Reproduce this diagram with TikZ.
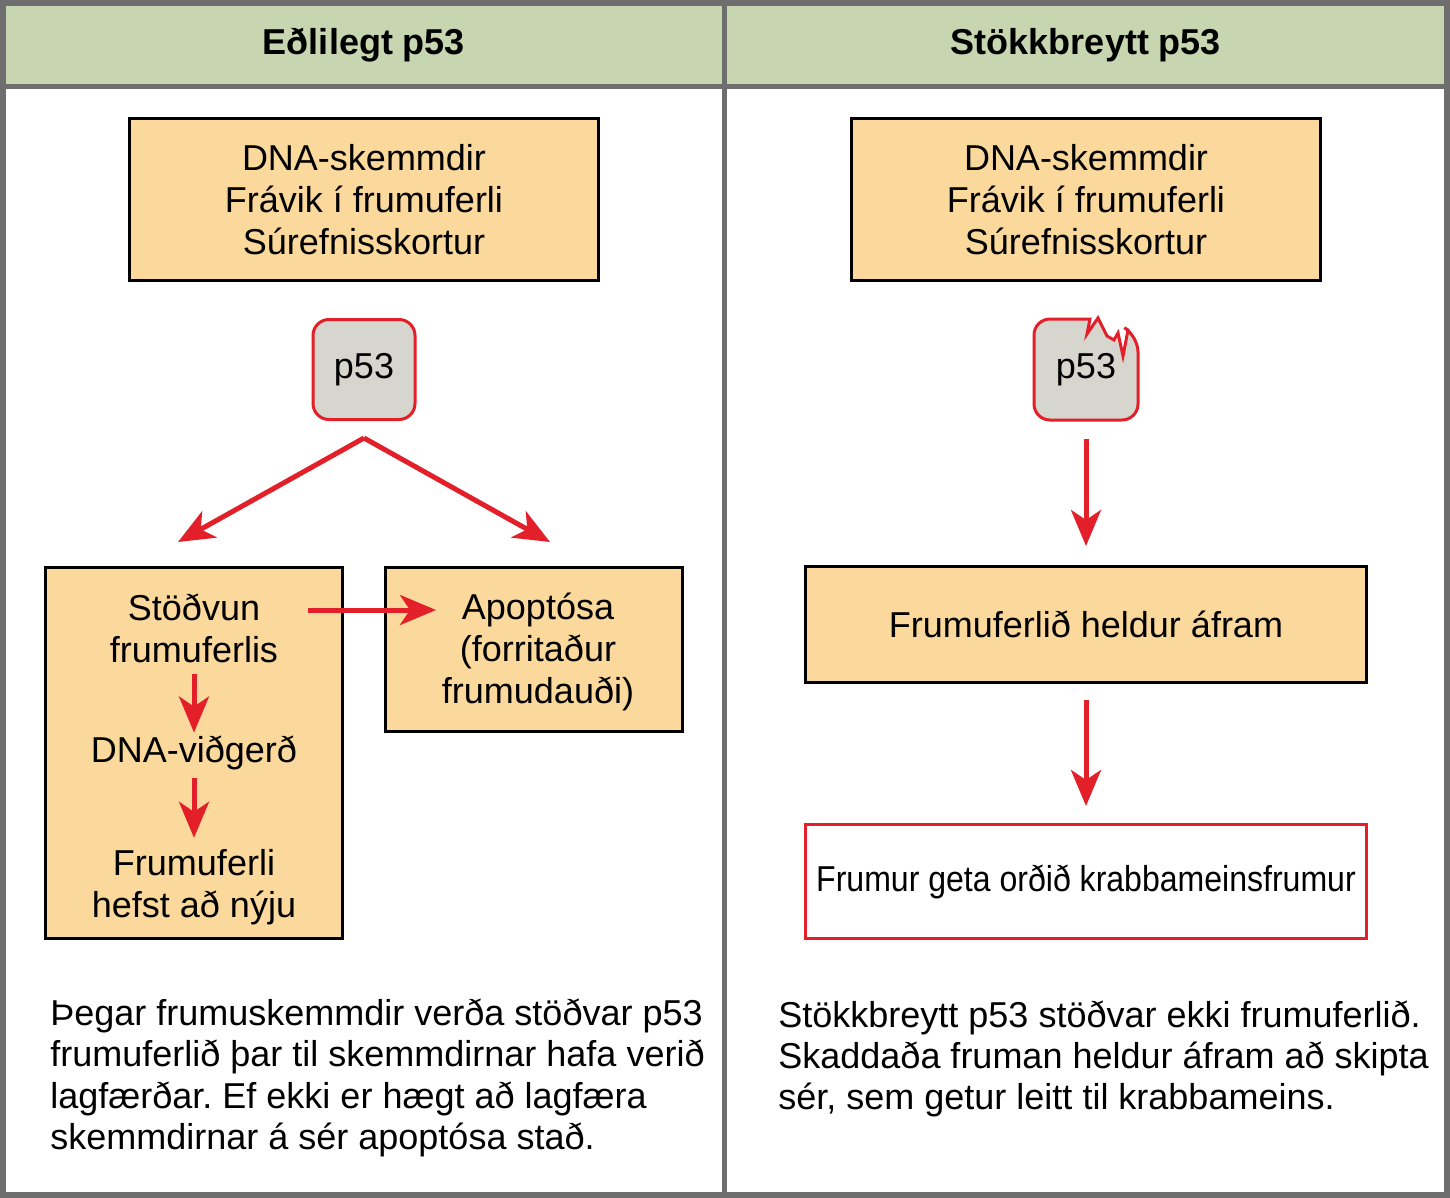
\documentclass[tikz,border=0pt]{standalone}
\usepackage{fontspec}
\setmainfont{Liberation Sans}
\newfontfamily\narrowfont{Liberation Sans}[FakeStretch=0.89]
\usetikzlibrary{arrows.meta,positioning}
\definecolor{headgreen}{HTML}{C7D6B0}
\definecolor{boxorange}{HTML}{FBD89B}
\definecolor{protgray}{HTML}{D6D6CE}
\definecolor{signalred}{HTML}{E3202A}
\definecolor{framegray}{HTML}{6E6E6E}
\tikzset{
	lbl/.style={font=\fontsize{18}{21}\selectfont, align=center, inner sep=0pt},
	headlbl/.style={font=\bfseries\fontsize{18}{21}\selectfont, inner sep=0pt},
	causebox/.style={lbl, draw=black, line width=1.5pt, fill=boxorange, minimum width=234.5pt, minimum height=81pt},
	stepbox/.style={lbl, draw=black, line width=1.5pt, fill=boxorange, minimum width=148.5pt},
	protbox/.style={lbl, draw=signalred, line width=1.5pt, fill=protgray, rounded corners=8pt, minimum width=51pt, minimum height=50pt},
	resultbox/.style={lbl, draw=signalred, line width=1.5pt, fill=white, minimum width=280.5pt, minimum height=57pt},
	redarrow/.style={draw=signalred, line width=2.5pt, -{Stealth[length=18pt,width=15pt,inset=5pt]}},
	note/.style={font=\fontsize{18}{20.7}\selectfont, align=left, inner sep=0pt, anchor=west},
}
\frenchspacing
\begin{document}
\begin{tikzpicture}[x=0.5pt,y=-0.5pt]
	\useasboundingbox (0,0) rectangle (1450,1198);
	\fill[white] (0,0) rectangle (1450,1198);
	\fill[headgreen] (0,0) rectangle (1450,88);
	\draw[framegray, line width=2.5pt] (0,87) -- (1450,87);
	\draw[framegray, line width=2.5pt] (724,0) -- (724,1198);
	\draw[framegray, line width=3pt] (3,3) rectangle (1447,1195);
	\node[headlbl] (normhead) at (364,45) {Eðlilegt p53};
	\node[headlbl] (muthead) at (1086,45) {Stökkbreytt p53};
	% eðlilegt
	\node[causebox] (normcause) at (364,199.5) {DNA-skemmdir\\Frávik í frumuferli\\Súrefnisskortur};
	\node[protbox] (normp53) at (364,369.5) {p53};
	\coordinate (fork) at (364,438);
	\coordinate (haltin) at (178,542);
	\coordinate (apopin) at (550,542);
	\draw[redarrow] (fork) -- (haltin);
	\draw[redarrow] (fork) -- (apopin);
	\node[stepbox, minimum height=185.5pt] (haltbox) at (194,753) {};
	\node[stepbox, minimum height=82pt] (apopbox) at (534,649.5) {};
	\node[lbl] (halt) at (194,628) {Stöðvun\\frumuferlis};
	\node[lbl] (repair) at (194,753) {DNA-viðgerð};
	\node[lbl] (restart) at (194,887) {Frumuferli\\hefst að nýju};
	\node[lbl] (apop) at (538,652) {Apoptósa\\(forritaður\\frumudauði)};
	\coordinate (haltout) at (308,610);
	\coordinate (apopmark) at (436,610);
	\draw[redarrow] (haltout) -- (apopmark);
	\draw[redarrow, shorten <=5.5pt, shorten >=1.5pt] (halt.south) -- (repair.north);
	\draw[redarrow, shorten <=4pt, shorten >=5.5pt] (repair.south) -- (restart.north);
	\node[note] (normnote) at (50,1078) {Þegar frumuskemmdir verða stöðvar p53\\frumuferlið þar til skemmdirnar hafa verið\\lagfærðar. Ef ekki er hægt að lagfæra\\skemmdirnar á sér apoptósa stað.};
	% stökkbreytt
	\node[causebox] (mutcause) at (1086,199.5) {DNA-skemmdir\\Frávik í frumuferli\\Súrefnisskortur};
	\draw[signalred, fill=protgray, line width=1.5pt] (1090,319) [rounded corners=8pt] -- (1034,319) -- (1034,420) -- (1138,420) -- (1138,336) [sharp corners] -- (1128,330) -- (1123,356) -- (1118,333) -- (1114,340) -- (1107,336) -- (1098,318) -- (1087,334) -- cycle;
	\node[lbl, minimum width=51pt, minimum height=50pt] (mutp53) at (1086,369.5) {p53};
	\node[causebox, minimum width=280.5pt, minimum height=58pt] (grow) at (1086,624.5) {Frumuferlið heldur áfram};
	\node[resultbox] (cancer) at (1086,881.5) {\narrowfont Frumur geta orðið krabbameinsfrumur};
	\draw[redarrow, shorten <=9.5pt, shorten >=9.5pt] (mutp53.south) -- (grow.north);
	\draw[redarrow, shorten <=8pt, shorten >=8.5pt] (grow.south) -- (cancer.north);
	\node[note] (mutnote) at (778,1059) {Stökkbreytt p53 stöðvar ekki frumuferlið.\\Skaddaða fruman heldur áfram að skipta\\sér, sem getur leitt til krabbameins.};
\end{tikzpicture}
\end{document}
